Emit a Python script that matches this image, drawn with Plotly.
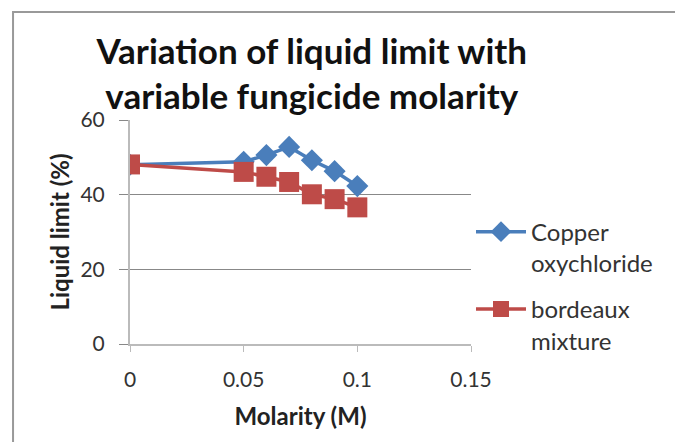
import plotly.graph_objects as go

# Data
molarity = [0, 0.05, 0.06, 0.07, 0.08, 0.09, 0.1]
copper_oxychloride = [48.0, 48.8, 50.6, 52.8, 49.2, 46.3, 42.3]
bordeaux_mixture = [48.1, 46.1, 44.8, 43.4, 40.1, 38.8, 36.6]

font_family = "Lato, 'Open Sans', sans-serif"

fig = go.Figure()

fig.add_trace(go.Scatter(
    x=molarity, y=copper_oxychloride,
    mode="lines+markers", name="Copper<br>oxychloride", legendgroup="copper",
    line=dict(color="#4A7EBB", width=3.5),
    marker=dict(symbol="diamond", size=17, color="#4A7EBB"),
))
fig.add_trace(go.Scatter(
    x=molarity, y=bordeaux_mixture,
    mode="lines+markers", name="bordeaux<br>mixture", legendgroup="bordeaux",
    line=dict(color="#BE4B48", width=3.5),
    marker=dict(symbol="square", size=20, color="#BE4B48"),
))

# page body has an 8px margin, so the figure is shifted by 8px
fig.update_layout(
    width=675, height=434,
    margin=dict(l=122, r=212, t=112, b=98),
    paper_bgcolor="white", plot_bgcolor="white",
    font=dict(family=font_family, size=20, color="#222"),
    title=dict(
        text="<b>Variation of liquid limit with<br>variable fungicide molarity</b>",
        x=0.45, xanchor="center", y=0.871, yanchor="middle",
        font=dict(size=35, color="#111"),
    ),
    xaxis=dict(
        range=[0, 0.15], tickvals=[0, 0.05, 0.1, 0.15],
        ticktext=["0", "0.05", "0.1", "0.15"],
        showgrid=False, showline=True, linecolor="#bbb", linewidth=2,
        ticks="outside", ticklen=6, tickcolor="#bbb",
        ticklabelstandoff=10,
        tickfont=dict(size=21, color="#333"),
        title=dict(text="<b>Molarity (M)</b>", font=dict(size=24), standoff=18),
        zeroline=False,
    ),
    yaxis=dict(
        range=[0, 60], tickvals=[0, 20, 40, 60],
        showgrid=True, gridcolor="#888", gridwidth=1,
        showline=True, linecolor="#bbb", linewidth=2,
        ticks="outside", ticklen=9, tickcolor="#888",
        ticklabelstandoff=10,
        tickfont=dict(size=21, color="#333"),
        title=dict(text="<b>Liquid limit (%)</b>", font=dict(size=24), standoff=4),
        zeroline=False,
    ),
    legend=dict(
        x=1.0, y=0.6, xanchor="left", yanchor="top", valign="top",
        font=dict(size=24, color="#333"), traceorder="grouped",
        itemwidth=50, tracegroupgap=12, bgcolor="rgba(0,0,0,0)",
    ),
    showlegend=True,
    shapes=[dict(
        type="rect", xref="paper", yref="paper",
        x0=-0.343, x1=1.613, y0=-0.6, y1=1.482,
        line=dict(color="#999", width=2), layer="below",
    )],
)

fig.write_html("out.html")
